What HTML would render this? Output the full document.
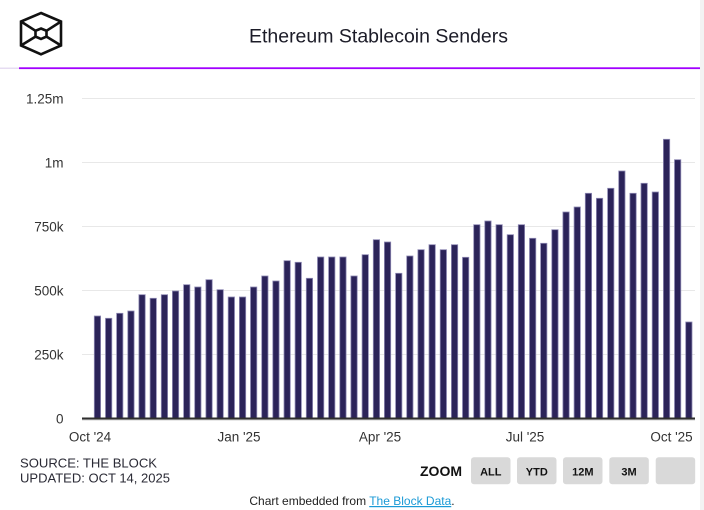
<!DOCTYPE html>
<html>
<head>
<meta charset="utf-8">
<style>
  html, body { margin:0; padding:0; background:#ffffff; }
  body { width:704px; height:510px; overflow:hidden; }
  svg { display:block; }
  text { font-family: "Liberation Sans", Arial, sans-serif; }
</style>
</head>
<body>
<svg width="704" height="510" viewBox="0 0 704 510" xmlns="http://www.w3.org/2000/svg">
  <rect x="0" y="0" width="704" height="510" fill="#ffffff"/>
  <rect x="700" y="0" width="4" height="510" fill="#f3f3f3"/>

  <g fill="none" stroke="#111111" stroke-width="2.6" stroke-linejoin="miter">
    <polygon points="41,13 61,21.5 61,45.5 41,54.3 21,45.5 21,21.5"/>
    <polygon points="41,28.5 46.5,30.8 46.5,36.6 41,39 35.5,36.6 35.5,30.8"/>
    <line x1="21" y1="21.5" x2="35.5" y2="30.8"/>
    <line x1="61" y1="21.5" x2="46.5" y2="30.8"/>
    <line x1="21" y1="45.5" x2="35.5" y2="36.6"/>
    <line x1="61" y1="45.5" x2="46.5" y2="36.6"/>
  </g>

  <text x="378.5" y="42.3" text-anchor="middle" font-size="19.5" fill="#1c1c28">Ethereum Stablecoin Senders</text>

  <rect x="0" y="67.5" width="19" height="1.5" fill="#e6dcf2"/>
  <rect x="19" y="67.3" width="681" height="1.8" fill="#a100ff"/>

  <g stroke="#e8e8e8" stroke-width="1">
    <line x1="82" y1="98.5" x2="695" y2="98.5"/>
    <line x1="82" y1="162.5" x2="695" y2="162.5"/>
    <line x1="82" y1="226.5" x2="695" y2="226.5"/>
    <line x1="82" y1="290.5" x2="695" y2="290.5"/>
    <line x1="82" y1="354.5" x2="695" y2="354.5"/>
  </g>

  <g font-size="13.5" fill="#333333" text-anchor="end">
    <text x="63.5" y="103.3">1.25m</text>
    <text x="63.5" y="167.3">1m</text>
    <text x="63.5" y="231.3">750k</text>
    <text x="63.5" y="295.3">500k</text>
    <text x="63.5" y="359.3">250k</text>
    <text x="63.5" y="423.3">0</text>
  </g>

  <g fill="#2b2359" stroke="#8e89b3" stroke-width="0.8">
    <rect x="94.3" y="316" width="6.3" height="102"/>
    <rect x="105.5" y="318.3" width="6.3" height="99.7"/>
    <rect x="116.6" y="313.3" width="6.3" height="104.7"/>
    <rect x="127.8" y="311" width="6.3" height="107"/>
    <rect x="138.9" y="294.7" width="6.3" height="123.3"/>
    <rect x="150.1" y="298.3" width="6.3" height="119.7"/>
    <rect x="161.3" y="294.7" width="6.3" height="123.3"/>
    <rect x="172.4" y="291" width="6.3" height="127"/>
    <rect x="183.6" y="284.7" width="6.3" height="133.3"/>
    <rect x="194.7" y="287" width="6.3" height="131"/>
    <rect x="205.9" y="279.7" width="6.3" height="138.3"/>
    <rect x="217.0" y="289.7" width="6.3" height="128.3"/>
    <rect x="228.2" y="297" width="6.3" height="121"/>
    <rect x="239.4" y="297" width="6.3" height="121"/>
    <rect x="250.5" y="287" width="6.3" height="131"/>
    <rect x="261.7" y="276" width="6.3" height="142"/>
    <rect x="272.8" y="281" width="6.3" height="137"/>
    <rect x="284.0" y="260.7" width="6.3" height="157.3"/>
    <rect x="295.1" y="262.3" width="6.3" height="155.7"/>
    <rect x="306.3" y="278.3" width="6.3" height="139.7"/>
    <rect x="317.5" y="257" width="6.3" height="161"/>
    <rect x="328.6" y="257" width="6.3" height="161"/>
    <rect x="339.8" y="257" width="6.3" height="161"/>
    <rect x="350.9" y="276" width="6.3" height="142"/>
    <rect x="362.1" y="254.7" width="6.3" height="163.3"/>
    <rect x="373.3" y="239.7" width="6.3" height="178.3"/>
    <rect x="384.4" y="242" width="6.3" height="176"/>
    <rect x="395.6" y="273.3" width="6.3" height="144.7"/>
    <rect x="406.7" y="256" width="6.3" height="162"/>
    <rect x="417.9" y="249.7" width="6.3" height="168.3"/>
    <rect x="429.0" y="244.7" width="6.3" height="173.3"/>
    <rect x="440.2" y="249.7" width="6.3" height="168.3"/>
    <rect x="451.4" y="244.7" width="6.3" height="173.3"/>
    <rect x="462.5" y="257.3" width="6.3" height="160.7"/>
    <rect x="473.7" y="224.7" width="6.3" height="193.3"/>
    <rect x="484.8" y="221" width="6.3" height="197"/>
    <rect x="496.0" y="224.7" width="6.3" height="193.3"/>
    <rect x="507.2" y="234.7" width="6.3" height="183.3"/>
    <rect x="518.3" y="224.7" width="6.3" height="193.3"/>
    <rect x="529.5" y="238.3" width="6.3" height="179.7"/>
    <rect x="540.6" y="243.3" width="6.3" height="174.7"/>
    <rect x="551.8" y="229.7" width="6.3" height="188.3"/>
    <rect x="562.9" y="212" width="6.3" height="206"/>
    <rect x="574.1" y="207" width="6.3" height="211"/>
    <rect x="585.3" y="193.3" width="6.3" height="224.7"/>
    <rect x="596.4" y="198.3" width="6.3" height="219.7"/>
    <rect x="607.6" y="188.3" width="6.3" height="229.7"/>
    <rect x="618.7" y="171" width="6.3" height="247"/>
    <rect x="629.9" y="193.3" width="6.3" height="224.7"/>
    <rect x="641.0" y="183.3" width="6.3" height="234.7"/>
    <rect x="652.2" y="192" width="6.3" height="226"/>
    <rect x="663.4" y="139.3" width="6.3" height="278.7"/>
    <rect x="674.5" y="159.7" width="6.3" height="258.3"/>
    <rect x="685.7" y="322" width="6.3" height="96"/>
  </g>

  <rect x="82" y="417.5" width="613" height="2" fill="#2e2e2e"/>
  <rect x="82" y="419.5" width="613" height="1" fill="#d0d0d0"/>

  <g font-size="13.5" fill="#333333" text-anchor="middle">
    <text x="90" y="441.5">Oct '24</text>
    <text x="239" y="441.5">Jan '25</text>
    <text x="380" y="441.5">Apr '25</text>
    <text x="525" y="441.5">Jul '25</text>
    <text x="671.5" y="441.5">Oct '25</text>
  </g>

  <text x="20" y="467.7" font-size="13" fill="#2a2a35" textLength="137" lengthAdjust="spacingAndGlyphs">SOURCE: THE BLOCK</text>
  <text x="20" y="482.7" font-size="13" fill="#2a2a35" textLength="150" lengthAdjust="spacingAndGlyphs">UPDATED: OCT 14, 2025</text>

  <text x="420" y="476" font-size="14" font-weight="bold" fill="#111111">ZOOM</text>
  <g fill="#d9d9d9">
    <rect x="471" y="457.3" width="39.5" height="27" rx="3"/>
    <rect x="517" y="457.3" width="39.5" height="27" rx="3"/>
    <rect x="563" y="457.3" width="39.5" height="27" rx="3"/>
    <rect x="609.3" y="457.3" width="39.5" height="27" rx="3"/>
    <rect x="655.7" y="457.3" width="39.5" height="27" rx="3"/>
  </g>
  <g font-size="11" font-weight="bold" fill="#111111" text-anchor="middle">
    <text x="490.8" y="475.5">ALL</text>
    <text x="536.8" y="475.5">YTD</text>
    <text x="582.8" y="475.5">12M</text>
    <text x="629" y="475.5">3M</text>
  </g>

  <text x="352" y="505" font-size="12" fill="#222222" text-anchor="middle">Chart embedded from <tspan fill="#1b9ad6" text-decoration="underline">The Block Data</tspan>.</text>
</svg>
</body>
</html>
